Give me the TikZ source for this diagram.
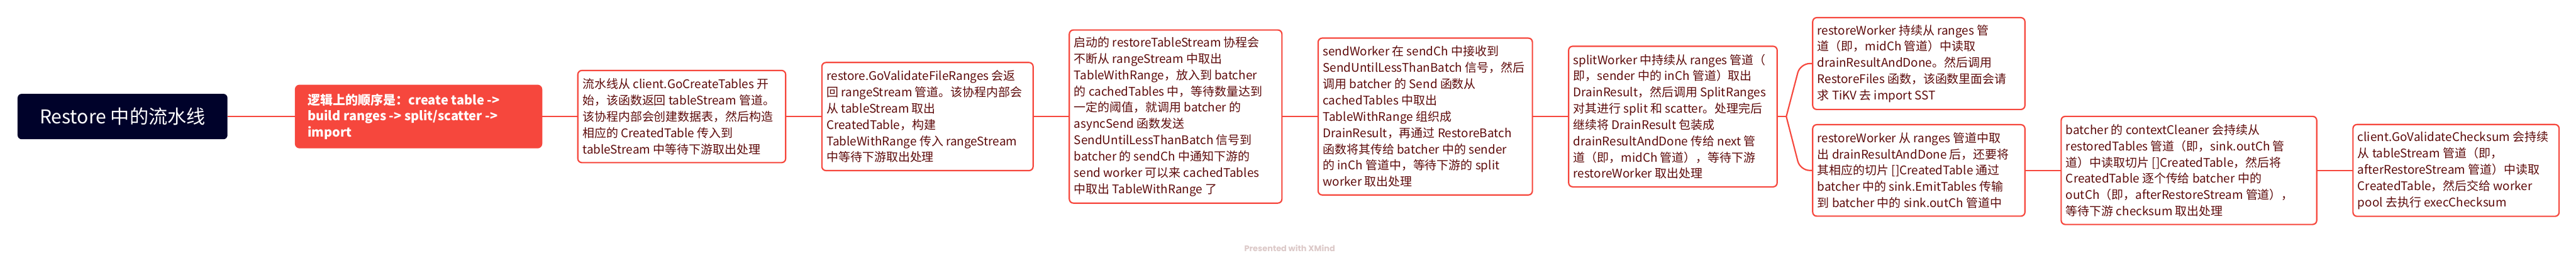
\documentclass[tikz,border=0pt]{standalone}
\usepackage{fontspec}
\setmainfont{Noto Sans CJK SC}
\newfontfamily\markfont{Poppins}
\usetikzlibrary{positioning,calc}
\definecolor{xmred}{HTML}{F6473D}
\definecolor{xmtext}{HTML}{5E0B0B}
\definecolor{xmroot}{HTML}{00022A}
\definecolor{xmmark}{HTML}{DCC9C8}

\begin{document}
\begin{tikzpicture}[node distance=26.75pt,
    every node/.style={outer sep=0pt},
    central/.style={rectangle, rounded corners=3pt, fill=xmroot, text=white, align=center,
        font=\fontsize{14pt}{17pt}\selectfont},
    summary/.style={rectangle, rounded corners=3pt, draw=xmred, fill=xmred, line width=1pt,
        text=white, align=justify, inner xsep=9pt, inner ysep=0pt,
        font=\fontsize{9.3pt}{11.75pt}\selectfont\bfseries},
    detail/.style={rectangle, rounded corners=3pt, draw=xmred, fill=white, line width=1pt,
        text=xmtext, align=justify, inner xsep=3.5pt, inner ysep=0pt,
        font=\fontsize{8.8pt}{12pt}\selectfont},
    branch/.style={draw=xmred, line width=1pt}]
    \useasboundingbox[fill=white] (0,0) rectangle (1902.5pt,195.5pt);

    % Topics
    \node (root) [central, minimum width=155pt, minimum height=33.5pt] at (90.5pt,109.5pt) {Restore 中的流水线};

    \node (order) [summary, text width=163.75pt, minimum height=46pt, right=50.25pt of root] {
        逻辑上的顺序是：create table ->\\
        build ranges -> split/scatter ->\\
        import
    };

    \node (create) [detail, text width=146.5pt, minimum height=68pt, right=of order] {
        流水线从 client.GoCreateTables 开\\
        始，该函数返回 tableStream 管道。\\
        该协程内部会创建数据表，然后构造\\
        相应的 CreatedTable 传入到\\
        tableStream 中等待下游取出处理
    };

    \node (validate) [detail, text width=149pt, minimum height=79.75pt, right=of create] {
        restore.GoValidateFileRanges 会返\\
        回 rangeStream 管道。该协程内部会\\
        从 tableStream 取出\\
        CreatedTable，构建\\
        TableWithRange 传入 rangeStream\\
        中等待下游取出处理
    };

    \node (stream) [detail, text width=150pt, minimum height=127.75pt, right=of validate] {
        启动的 restoreTableStream 协程会\\
        不断从 rangeStream 中取出\\
        TableWithRange，放入到 batcher\\
        的 cachedTables 中，等待数量达到\\
        一定的阈值，就调用 batcher 的\\
        asyncSend 函数发送\\
        SendUntilLessThanBatch 信号到\\
        batcher 的 sendCh 中通知下游的\\
        send worker 可以来 cachedTables\\
        中取出 TableWithRange 了
    };

    \node (send) [detail, text width=151.25pt, minimum height=115.75pt, right=of stream] {
        sendWorker 在 sendCh 中接收到\\
        SendUntilLessThanBatch 信号，然后\\
        调用 batcher 的 Send 函数从\\
        cachedTables 中取出\\
        TableWithRange 组织成\\
        DrainResult，再通过 RestoreBatch\\
        函数将其传给 batcher 中的 sender\\
        的 inCh 管道中，等待下游的 split\\
        worker 取出处理
    };

    \node (split) [detail, text width=147pt, minimum height=103.75pt, right=of send] {
        splitWorker 中持续从 ranges 管道（\\
        即，sender 中的 inCh 管道）取出\\
        DrainResult，然后调用 SplitRanges\\
        对其进行 split 和 scatter。处理完后\\
        继续将 DrainResult 包装成\\
        drainResultAndDone 传给 next 管\\
        道（即，midCh 管道），等待下游\\
        restoreWorker 取出处理
    };

    \node (rw1) [detail, text width=149.75pt, minimum height=67.75pt, right=26.25pt of split, yshift=39.1pt] {
        restoreWorker 持续从 ranges 管\\
        道（即，midCh 管道）中读取\\
        drainResultAndDone。然后调用\\
        RestoreFiles 函数，该函数里面会请\\
        求 TiKV 去 import SST
    };

    \node (rw2) [detail, text width=149.75pt, minimum height=67.5pt, right=26.25pt of split, yshift=-39.75pt] {
        restoreWorker 从 ranges 管道中取\\
        出 drainResultAndDone 后，还要将\\
        其相应的切片 []CreatedTable 通过\\
        batcher 中的 sink.EmitTables 传输\\
        到 batcher 中的 sink.outCh 管道中
    };

    \node (batcher) [detail, text width=181.75pt, minimum height=79.75pt, right=of rw2] {
        batcher 的 contextCleaner 会持续从\\
        restoredTables 管道（即，sink.outCh 管\\
        道）中读取切片 []CreatedTable，然后将\\
        CreatedTable 逐个传给 batcher 中的\\
        outCh（即，afterRestoreStream 管道），\\
        等待下游 checksum 取出处理
    };

    \node (checksum) [detail, text width=145.25pt, minimum height=67.75pt, right=of batcher] {
        client.GoValidateChecksum 会持续\\
        从 tableStream 管道（即，\\
        afterRestoreStream 管道）中读取\\
        CreatedTable，然后交给 worker\\
        pool 去执行 execChecksum
    };

    \node (credit) [font=\markfont\bfseries\fontsize{6pt}{7pt}\selectfont, text=xmmark] at (952.5pt,12.5pt) {Presented with XMind};

    % Branches
    \draw[branch] (root) -- (order);
    \draw[branch] (order) -- (create);
    \draw[branch] (create) -- (validate);
    \draw[branch] (validate) -- (stream);
    \draw[branch] (stream) -- (send);
    \draw[branch] (send) -- (split);
    \coordinate [right=6.75pt of split] (fork);
    \draw[branch] (split) -- (fork);
    \draw[branch, rounded corners=7pt] (fork) -- ($(fork |- rw1.west)+(10.25pt,0)$) -- (rw1.west);
    \draw[branch, rounded corners=7pt] (fork) -- ($(fork |- rw2.west)+(10.25pt,0)$) -- (rw2.west);
    \draw[branch] (rw2) -- (batcher);
    \draw[branch] (batcher) -- (checksum);
\end{tikzpicture}
\end{document}
